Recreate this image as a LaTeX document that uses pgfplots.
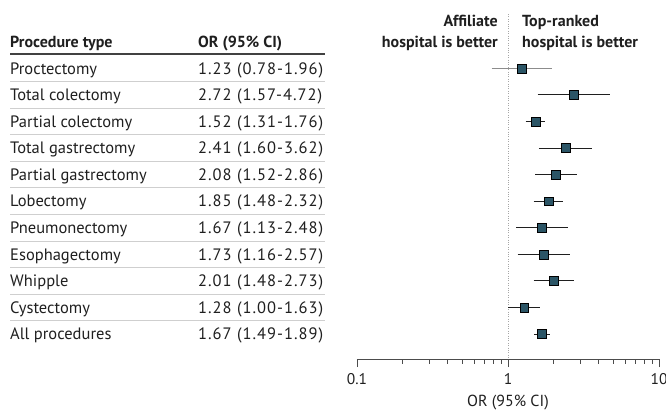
\documentclass[border=0pt]{standalone}
\usepackage{pgfplots}
\pgfplotsset{compat=1.18}
\usepackage{fontspec}
\setmainfont{PT Sans}
\definecolor{mk}{HTML}{2B5566}
\definecolor{txt}{HTML}{1F1F1F}
\definecolor{rule}{HTML}{CFCFCF}
\newcommand{\row}[2]{\makebox[188pt][l]{#1}{\addfontfeature{LetterSpace=6}#2}}
\begin{document}
\fontsize{16}{21}\selectfont
\begin{tikzpicture}
\useasboundingbox (0pt,0pt) rectangle (666pt,-410pt);
% table header
\node[anchor=base west, inner sep=0pt, font=\bfseries, text=txt] at (10pt,-47.6pt) {Procedure type};
\node[anchor=base west, inner sep=0pt, font=\bfseries, text=txt] at (198pt,-47.6pt) {OR (95\% CI)};
\draw[txt!85, line width=1.2pt] (10pt,-54pt) -- (325pt,-54pt);
\foreach \i in {1,...,10} {
  \draw[rule, line width=1pt] (10pt,{-(68.3+(\i-0.5)*26.57)*1pt}) -- (325pt,{-(68.3+(\i-0.5)*26.57)*1pt});
}
% plot header
\node[anchor=base east, inner sep=0pt, font=\bfseries, text=txt] at (498pt,-26.6pt) {Affiliate};
\node[anchor=base east, inner sep=0pt, font=\bfseries, text=txt] at (498pt,-47.6pt) {hospital is better};
\node[anchor=base west, inner sep=0pt, font=\bfseries, text=txt] at (522pt,-26.6pt) {Top-ranked};
\node[anchor=base west, inner sep=0pt, font=\bfseries, text=txt] at (522pt,-47.6pt) {hospital is better};
\begin{axis}[
  at={(357pt,-359pt)}, anchor=south west,
  scale only axis, width=302pt, height=345pt,
  xmode=log, xmin=0.1, xmax=10,
  ymin=-1.044, ymax=11.94, y dir=reverse,
  clip=false,
  axis x line*=bottom, axis y line*=left,
  x axis line style={-, draw=black!70, line width=0.9pt},
  y axis line style={draw=none},
  xtick={0.1,1,10}, xticklabels={0.1,1,10},
  tick align=outside,
  major tick length=8pt, minor tick length=4.5pt,
  every tick/.style={draw=black!70, line width=0.9pt},
  ytick={1,...,11},
  ytick style={draw=none},
  yticklabels={
    \row{Proctectomy}{1.23 (0.78-1.96)},
    \row{Total colectomy}{2.72 (1.57-4.72)},
    \row{Partial colectomy}{1.52 (1.31-1.76)},
    \row{Total gastrectomy}{2.41 (1.60-3.62)},
    \row{Partial gastrectomy}{2.08 (1.52-2.86)},
    \row{Lobectomy}{1.85 (1.48-2.32)},
    \row{Pneumonectomy}{1.67 (1.13-2.48)},
    \row{Esophagectomy}{1.73 (1.16-2.57)},
    \row{Whipple}{2.01 (1.48-2.73)},
    \row{Cystectomy}{1.28 (1.00-1.63)},
    \row{All procedures}{1.67 (1.49-1.89)}},
  yticklabel style={anchor=base west, inner sep=0pt, xshift=-339pt, yshift=-5.8pt, text=txt, font=\fontsize{16.5}{19}\selectfont},
  xticklabel style={anchor=north, inner sep=0pt, text=txt, font=\fontsize{15.5}{18}\selectfont},
  xticklabel shift=6.5pt,
  /pgf/number format/assume math mode=true,
  xlabel={OR (95\% CI)},
  xlabel style={at={(axis description cs:0.5,0)}, anchor=base, inner sep=0pt, yshift=-47.5pt, text=txt, font=\fontsize{16}{19}\selectfont},
  unbounded coords=jump,
]
\addplot[gray!70, line width=0.8pt, dash pattern=on 0.8pt off 1.6pt] coordinates {(1,-1.044) (1,11.94)};
% CI, not significant
\addplot[black!45, line width=1.3pt] coordinates {(0.78,1) (1.96,1)};
% CI
\addplot[txt, line width=1pt] coordinates {
(1.57,2) (4.72,2) (nan,nan)
(1.31,3) (1.76,3) (nan,nan)
(1.60,4) (3.62,4) (nan,nan)
(1.52,5) (2.86,5) (nan,nan)
(1.48,6) (2.32,6) (nan,nan)
(1.13,7) (2.48,7) (nan,nan)
(1.16,8) (2.57,8) (nan,nan)
(1.48,9) (2.73,9) (nan,nan)
(1.00,10) (1.63,10) (nan,nan)
(1.49,11) (1.89,11)};
% OR
\addplot[only marks, mark=square*, mark size=4.4pt, mark options={fill=mk, draw=none}] coordinates {
(1.23,1) (2.72,2) (1.52,3) (2.41,4) (2.08,5) (1.85,6) (1.67,7) (1.73,8) (2.01,9) (1.28,10) (1.67,11)};
\end{axis}
\end{tikzpicture}
\end{document}
